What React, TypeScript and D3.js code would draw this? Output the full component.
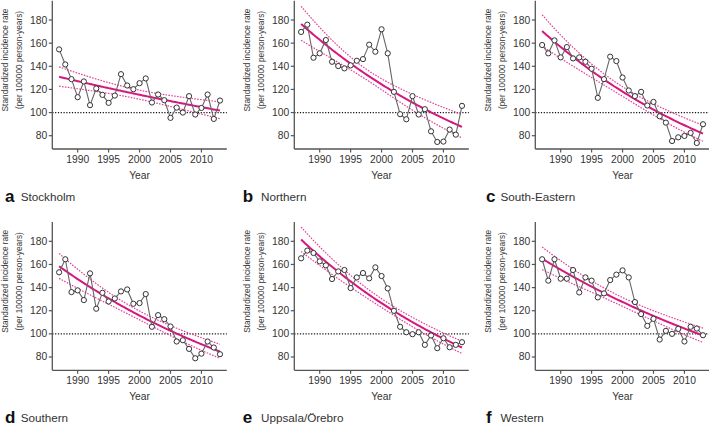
import React from "react";
import * as d3 from "d3";

const years = [1987, 1988, 1989, 1990, 1991, 1992, 1993, 1994, 1995, 1996, 1997, 1998, 1999, 2000, 2001, 2002, 2003, 2004, 2005, 2006, 2007, 2008, 2009, 2010, 2011, 2012, 2013];

const stockholm = [154.6, 141.6, 128.9, 113.3, 126.9, 106.4, 120.8, 115.3, 108.4, 114.7, 133.2, 123.4, 120.2, 125.4, 129.5, 108.7, 115.6, 110.7, 95.4, 104.3, 100, 114.2, 98.3, 104, 115.6, 94.5, 110.4];
const northern = [169.7, 176, 147.4, 151.2, 162.7, 143.9, 140.2, 138.2, 140.8, 144.8, 146.2, 158.7, 152.6, 172, 151.2, 117.9, 98.6, 94.2, 114.2, 98.3, 102.9, 83.8, 74.6, 74.9, 85.3, 80.9, 105.8];
const southEastern = [158.4, 151.2, 162.4, 147.7, 156.6, 146.8, 147.7, 143.9, 137.9, 112.7, 128.9, 148.3, 144.5, 130.3, 119.1, 114.2, 117.9, 106.1, 109.2, 96.8, 91.3, 75.4, 78.6, 79.8, 82.4, 73.7, 89.9];
const southern = [153.2, 164.5, 136.1, 137.6, 129.2, 152.3, 121.7, 135.5, 128, 130.6, 136.7, 138.4, 126, 126.6, 134.4, 106.1, 116.2, 112.7, 106.4, 93.4, 94.5, 87, 78.9, 82.9, 93.4, 88.2, 82.4];
const uppsalaOrebro = [165.3, 172, 169.9, 162.7, 159.2, 147.4, 154, 155.2, 139.6, 148.8, 152.6, 148, 157.5, 150, 139.3, 119.9, 106.1, 101.4, 99.7, 101.4, 90.5, 98.6, 87.6, 96.2, 88.4, 90.5, 92.8];
const western = [164.5, 146, 164.5, 147.7, 147.7, 155.2, 135.8, 148.8, 146, 131.5, 135, 146.5, 151.2, 154.9, 148.8, 127.5, 117.1, 106.9, 113, 95.1, 102.6, 100, 104.3, 93.4, 106.1, 104.6, 98.8];

const series = [stockholm, northern, southEastern, southern, uppsalaOrebro, western];
const letters = ["a", "b", "c", "d", "e", "f"];
const regionNames = ["Stockholm", "Northern", "South-Eastern", "Southern", "Uppsala/Örebro", "Western"];

// Poisson-regression trend: fitted rate in 1987 and 2013, and log-scale 95% CI half-widths (1987, 2000, 2013)
const trendStart = [130.9, 176.6, 170.5, 158.4, 181.5, 165];
const trendEnd = [101.7, 87.6, 81.8, 84.7, 88.2, 98.6];
const ciStart = [0.064, 0.083, 0.079, 0.068, 0.058, 0.059];
const ciMid = [0.034, 0.038, 0.035, 0.033, 0.03, 0.03];
const ciEnd = [0.071, 0.115, 0.085, 0.072, 0.06, 0.063];

const yTicks = [80, 100, 120, 140, 160, 180];
const xTicks = [1990, 1995, 2000, 2005, 2010];
const refLevel = 100;

const FONT = "'Liberation Sans', Arial, Helvetica, sans-serif";
const MAGENTA = "#d6177f";
const colOrigin = [52.3, 294.3, 535.3];
const rowOffset = [0, 221.3];
const letterX = [5, 242.7, 486];
const nameX = [20.7, 261, 500.5];

function Panel({ i }: { i: number }) {
  const col = i % 3;
  const row = Math.floor(i / 3);
  const ox = colOrigin[col];
  const oy = rowOffset[row];
  const x = d3.scaleLinear().domain([1985.9, 2014.1]).range([ox, ox + 174.5]);
  const y = d3.scaleLinear().domain([68.5, 196.7]).range([oy + 149, oy + 0.7]);
  const vals = series[i];
  const pts = years.map((yr, k) => [yr, vals[k]] as [number, number]);

  const l0 = Math.log(trendStart[i]);
  const l1 = Math.log(trendEnd[i]);
  const fitLog = (t: number) => l0 + ((l1 - l0) * (t - 1987)) / 26;
  const vs = ciStart[i] ** 2, vm = ciMid[i] ** 2, ve = ciEnd[i] ** 2;
  const qc = (vs + ve - 2 * vm) / (2 * 169);
  const qb = (ve - vs) / 26;
  const hw = (t: number) => {
    const tt = t - 2000;
    return Math.sqrt(Math.max(0, vm + qb * tt + qc * tt * tt));
  };
  const grid = d3.range(1987, 2013.001, 0.25);
  const line = d3.line<[number, number]>().x((d) => x(d[0])).y((d) => y(d[1]));
  const fitPath = line(grid.map((t) => [t, Math.exp(fitLog(t))]));
  const upPath = line(grid.map((t) => [t, Math.exp(fitLog(t) + hw(t))]));
  const loPath = line(grid.map((t) => [t, Math.exp(fitLog(t) - hw(t))]));
  const dataPath = line(pts);

  const axisColor = "#555";
  const textColor = "#333";
  const bottom = y.range()[0];
  const top = y.range()[1];
  const xEnd = x.range()[1];

  return (
    <g>
      <line x1={ox} x2={xEnd} y1={y(refLevel)} y2={y(refLevel)} stroke="#111" strokeWidth={1.2} strokeDasharray="1.2 1.6" />
      <path d={upPath || ""} fill="none" stroke="#e0439a" strokeWidth={1.2} strokeDasharray="1.6 1.3" />
      <path d={loPath || ""} fill="none" stroke="#e0439a" strokeWidth={1.2} strokeDasharray="1.6 1.3" />
      <path d={fitPath || ""} fill="none" stroke={MAGENTA} strokeWidth={2} />
      <path d={dataPath || ""} fill="none" stroke="#666" strokeWidth={1.1} />
      {pts.map((p, k) => (
        <circle key={k} cx={x(p[0])} cy={y(p[1])} r={2.6} fill="#fff" stroke="#333" strokeWidth={1} />
      ))}
      <line x1={ox} x2={ox} y1={top} y2={bottom} stroke={axisColor} strokeWidth={1.3} />
      <line x1={ox} x2={xEnd} y1={bottom} y2={bottom} stroke={axisColor} strokeWidth={1.3} />
      {yTicks.map((t) => (
        <g key={"y" + t}>
          <line x1={ox - 3.5} x2={ox} y1={y(t)} y2={y(t)} stroke={axisColor} strokeWidth={1.2} />
          <text x={ox - 5} y={y(t)} textAnchor="end" dominantBaseline="central" fontSize={10.3} fill={textColor} fontFamily={FONT}>
            {t}
          </text>
        </g>
      ))}
      {xTicks.map((t) => (
        <g key={"x" + t}>
          <line x1={x(t)} x2={x(t)} y1={bottom} y2={bottom + 3.5} stroke={axisColor} strokeWidth={1.2} />
          <text x={x(t)} y={oy + 162.5} textAnchor="middle" fontSize={10.3} fill={textColor} fontFamily={FONT}>
            {t}
          </text>
        </g>
      ))}
      <text x={x(2000)} y={oy + 178.5} textAnchor="middle" fontSize={10.3} fill={textColor} fontFamily={FONT}>
        Year
      </text>
      <g transform={`translate(${ox - 47},${oy + 60}) rotate(-90)`}>
        <text textAnchor="middle" dominantBaseline="central" fontSize={8.3} fill={textColor} fontFamily={FONT}>
          Standardized incidence rate
        </text>
      </g>
      <g transform={`translate(${ox - 33},${oy + 60}) rotate(-90)`}>
        <text textAnchor="middle" dominantBaseline="central" fontSize={8.3} fill={textColor} fontFamily={FONT}>
          (per 100000 person-years)
        </text>
      </g>
      <text x={letterX[col]} y={oy + 201.5} fontSize={17} fontWeight="bold" fill="#111" fontFamily={FONT}>
        {letters[i]}
      </text>
      <text x={nameX[col]} y={oy + 201} fontSize={11.7} fill={textColor} fontFamily={FONT}>
        {regionNames[i]}
      </text>
    </g>
  );
}

export default function App() {
  return (
    <svg width={709} height={426} style={{ position: "absolute", left: 0, top: 0, background: "#fff" }}>
      <rect width={709} height={426} fill="#fff" />
      {series.map((_, i) => (
        <Panel key={i} i={i} />
      ))}
    </svg>
  );
}
